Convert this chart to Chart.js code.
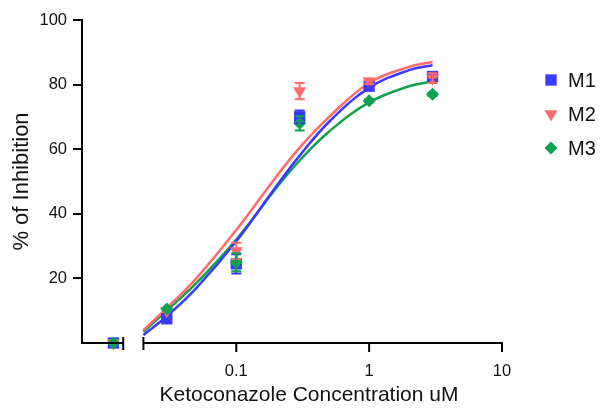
<!DOCTYPE html>
<html>
<head>
<meta charset="utf-8">
<script src="https://cdn.jsdelivr.net/npm/chart.js@4.4.1/dist/chart.umd.min.js"></script>
<style>
  html, body { margin: 0; padding: 0; background: #fff; }
  #wrap { width: 600px; height: 408px; }
</style>
</head>
<body>
<div id="wrap"><canvas id="myChart" width="600" height="408"></canvas></div>
<script>
// measured doses (0 = control, drawn left of the axis break)
const doses = [0, 0.03, 0.1, 0.3, 1, 3];
const m1 = [0, 7.5, 24.5, 70, 79.5, 82.5];
const m2 = [0, 10, 28.5, 78, 81, 82];
const m3 = [0, 10.5, 25, 68, 75, 77];
const m1Err = [0, 0, 3, 2, 0.8, 1];
const m2Err = [0, 0, 2.5, 2.5, 0.8, 1.5];
const m3Err = [0, 0, 2.8, 2.2, 0.5, 0.5];

// fitted curves
const fitX = [0.02, 0.03, 0.05, 0.1, 0.2, 0.3, 0.5, 1, 2, 3];
const m1Fit = [2.5, 8.3, 17, 31.5, 48.5, 58, 68.5, 79, 84.5, 86];
const m2Fit = [4, 10.8, 20, 35, 51.5, 60.5, 70, 80.5, 85.5, 87];
const m3Fit = [3.5, 10, 18.5, 32, 48, 56.5, 65.5, 74.5, 79.5, 81];

const xTicks = [0.1, 1, 10];
const CONTROL_POS = 0.0119;   // where "0" sits on the log axis
const BREAK_END = 0.0141;     // end of the short left segment
const BREAK_START = 0.02;     // start of the main segment

const BLUE = '#3a3aff', RED = '#ff6b6b', GREEN = '#0fa24f';
const FONT = "'Liberation Sans', Arial, sans-serif";

function pts(xs, ys) {
  return xs.map((x, i) => ({ x: x === 0 ? CONTROL_POS : x, y: ys[i] }));
}

function markerSet(label, ys, errs, color, style, radius, rotation, order) {
  return {
    label: label, data: pts(doses, ys), errors: errs, isMarker: true,
    showLine: false, pointStyle: style, pointRadius: radius, pointHoverRadius: radius,
    pointRotation: rotation, backgroundColor: color, borderColor: color, borderWidth: 0,
    order: order, clip: false
  };
}
function curveSet(xs, ys, color) {
  return {
    data: pts(xs, ys), showLine: true, pointRadius: 0, borderColor: color,
    borderWidth: 2.5, tension: 0.4, fill: false, order: 5
  };
}

const axisPlugin = {
  id: 'axisStuff',
  afterDatasetsDraw(chart) {
    const ctx = chart.ctx;
    // error bars
    chart.data.datasets.forEach((ds, di) => {
      if (!ds.isMarker) return;
      const meta = chart.getDatasetMeta(di);
      const ys = chart.scales.y;
      ctx.save();
      ctx.strokeStyle = ds.borderColor;
      ctx.lineWidth = 2;
      meta.data.forEach((p, i) => {
        const e = ds.errors[i];
        if (!e) return;
        const v = ds.data[i].y;
        const top = ys.getPixelForValue(v + e), bot = ys.getPixelForValue(v - e);
        ctx.beginPath();
        ctx.moveTo(p.x, top); ctx.lineTo(p.x, bot);
        ctx.moveTo(p.x - 5, top); ctx.lineTo(p.x + 5, top);
        ctx.moveTo(p.x - 5, bot); ctx.lineTo(p.x + 5, bot);
        ctx.stroke();
      });
      ctx.restore();
    });
  },
  afterDraw(chart) {
    const ctx = chart.ctx;
    const xs = chart.scales.x, area = chart.chartArea;
    const y0 = area.bottom;
    ctx.save();
    ctx.strokeStyle = '#000';
    ctx.lineWidth = 2;
    const a = xs.getPixelForValue(BREAK_END), b = xs.getPixelForValue(BREAK_START);
    ctx.beginPath();
    ctx.moveTo(area.left - 1, y0); ctx.lineTo(a, y0);
    ctx.moveTo(a, y0 - 6); ctx.lineTo(a, y0 + 7);
    ctx.moveTo(b, y0 - 6); ctx.lineTo(b, y0 + 7);
    ctx.moveTo(b, y0); ctx.lineTo(xs.getPixelForValue(10) + 1, y0);
    xTicks.forEach(t => {
      const px = xs.getPixelForValue(t);
      ctx.moveTo(px, y0); ctx.lineTo(px, y0 + 9);
    });
    ctx.stroke();

    // axis titles
    ctx.fillStyle = '#111';
    ctx.font = '21px ' + FONT;
    ctx.textAlign = 'center';
    ctx.textBaseline = 'middle';
    ctx.fillText('Ketoconazole Concentration uM', 309, 395);
    ctx.save();
    ctx.translate(22, (area.top + area.bottom) / 2);
    ctx.rotate(-Math.PI / 2);
    ctx.font = '22px ' + FONT;
    ctx.fillText('% of Inhibition', 0, 0);
    ctx.restore();

    // legend
    let ly = 80;
    [0, 1, 2].forEach(di => {
      const ds = chart.data.datasets[di];
      ctx.fillStyle = ds.backgroundColor;
      ctx.beginPath();
      Chart.helpers.drawPoint(ctx, { pointStyle: ds.pointStyle, radius: ds.pointRadius, rotation: ds.pointRotation, borderWidth: 0 }, 551, ly);
      ctx.fillStyle = '#111';
      ctx.font = '20px ' + FONT;
      ctx.textAlign = 'left';
      ctx.fillText(ds.label, 568, ly + 1);
      ly += 34;
    });
    ctx.restore();
  }
};

new Chart(document.getElementById('myChart'), {
  type: 'scatter',
  data: {
    datasets: [
      markerSet('M1', m1, m1Err, BLUE, 'rect', 8, 0, 3),
      markerSet('M2', m2, m2Err, RED, 'triangle', 7.5, 180, 2),
      markerSet('M3', m3, m3Err, GREEN, 'rectRot', 6.5, 0, 1),
      curveSet(fitX, m1Fit, BLUE),
      curveSet(fitX, m2Fit, RED),
      curveSet(fitX, m3Fit, GREEN)
    ]
  },
  options: {
    responsive: false,
    animation: false,
    layout: { padding: { top: 20, right: 98, left: 0, bottom: 0 } },
    plugins: { legend: { display: false }, tooltip: { enabled: false } },
    scales: {
      x: {
        type: 'logarithmic',
        min: 0.0069, max: 10,
        afterBuildTicks(scale) { scale.ticks = xTicks.map(v => ({ value: v })); },
        afterFit(scale) { scale.height = 65; },
        grid: { display: false },
        border: { display: false },
        ticks: {
          padding: 11, color: '#111', font: { family: FONT, size: 16.5 },
          maxRotation: 0, autoSkip: false,
          callback: v => String(v)
        }
      },
      y: {
        min: 0, max: 100,
        afterFit(scale) { scale.width = 82; },
        grid: {
          drawOnChartArea: false, tickLength: 9, lineWidth: 2,
          color: c => c.tick && c.tick.value === 0 ? 'rgba(0,0,0,0)' : '#000'
        },
        border: { color: '#000', width: 2 },
        ticks: {
          stepSize: 20, padding: 6, color: '#111', font: { family: FONT, size: 16.5 },
          callback: v => v === 0 ? '' : v
        }
      }
    }
  },
  plugins: [axisPlugin]
});
</script>
</body>
</html>
